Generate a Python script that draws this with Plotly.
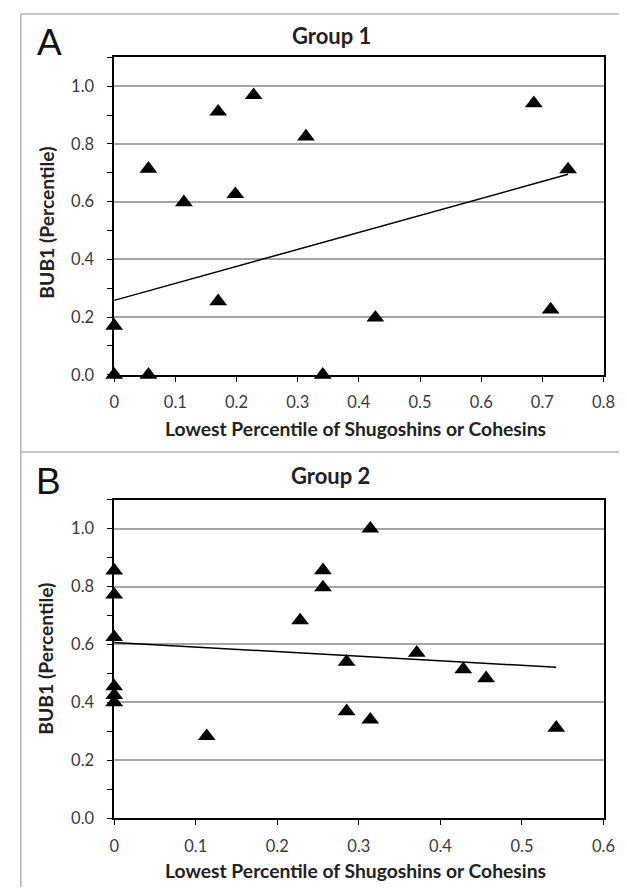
import plotly.graph_objects as go

# ---------------- data ----------------
group1_x = [0.0, 0.0, 0.056, 0.056, 0.114, 0.170, 0.170, 0.198, 0.228, 0.3135, 0.341, 0.427, 0.686, 0.7135, 0.742]
group1_y = [0.17, 0.0, 0.0, 0.714, 0.598, 0.912, 0.255, 0.626, 0.969, 0.826, 0.0, 0.198, 0.941, 0.226, 0.712]
group1_trend_x = [0.0, 0.742]
group1_trend_y = [0.258, 0.695]

group2_x = [0.0, 0.0, 0.0, 0.0, 0.0, 0.0, 0.1135, 0.228, 0.256, 0.256, 0.285, 0.285, 0.314, 0.314, 0.371, 0.428, 0.456, 0.542]
group2_y = [0.855, 0.772, 0.625, 0.455, 0.425, 0.400, 0.283, 0.683, 0.856, 0.797, 0.540, 0.369, 1.0, 0.340, 0.571, 0.514, 0.483, 0.312]
group2_trend_x = [0.0, 0.542]
group2_trend_y = [0.607, 0.521]

panel_labels = ["A", "B"]
titles = ["Group 1", "Group 2"]
x_title = "Lowest Percentile of Shugoshins or Cohesins"
y_title = "BUB1 (Percentile)"
x_ranges = [[0, 0.8], [0, 0.6]]
y_range = [0, 1.1]

# ---------------- figure ----------------
W, H = 627, 889
FONT = "Lato"

def px(x):
    return x / W

def py(y):
    return 1 - y / H

fig = go.Figure()

marker = dict(symbol="triangle-up", size=15.5, color="black", line=dict(width=0))

fig.add_trace(go.Scatter(x=group1_x, y=group1_y, mode="markers", marker=marker,
                         cliponaxis=False, xaxis="x", yaxis="y", showlegend=False))
fig.add_trace(go.Scatter(x=group1_trend_x, y=group1_trend_y, mode="lines",
                         line=dict(color="black", width=1.5), cliponaxis=False,
                         xaxis="x", yaxis="y", showlegend=False))
fig.add_trace(go.Scatter(x=group2_x, y=group2_y, mode="markers", marker=marker,
                         cliponaxis=False, xaxis="x2", yaxis="y2", showlegend=False))
fig.add_trace(go.Scatter(x=group2_trend_x, y=group2_trend_y, mode="lines",
                         line=dict(color="black", width=1.5), cliponaxis=False,
                         xaxis="x2", yaxis="y2", showlegend=False))

xdom = [px(104), px(607)]
ydomA = [py(371), py(50)]
ydomB = [py(819.3), py(497.3)]

tickfont = dict(family=FONT, size=16.5, color="#3a3a3a")

def xaxis_cfg(rng, anchor):
    return dict(domain=xdom, range=rng, anchor=anchor, dtick=0.1, tick0=0,
                showgrid=False, zeroline=False, showline=True, linecolor="black",
                linewidth=1.5, mirror=True, ticks="outside", ticklen=5,
                tickcolor="black", tickwidth=1, tickfont=tickfont,
                ticklabelstandoff=7, layer="below traces")

def yaxis_cfg(dom, anchor):
    return dict(domain=dom, range=y_range, anchor=anchor, dtick=0.2, tick0=0,
                tickformat=".1f", showgrid=True, gridcolor="#a6a6a6", gridwidth=1.5,
                zeroline=False, showline=True, linecolor="black", linewidth=1.5,
                mirror=True, ticks="outside", ticklen=5, tickcolor="black",
                tickwidth=1, tickfont=tickfont, ticklabelstandoff=10,
                minor=dict(dtick=0.1, tick0=0, ticks="outside", ticklen=5,
                           tickcolor="black", tickwidth=1, showgrid=False),
                layer="below traces")

fig.update_layout(
    width=W, height=H,
    margin=dict(l=0, r=0, t=0, b=0),
    paper_bgcolor="white", plot_bgcolor="white",
    xaxis=xaxis_cfg(x_ranges[0], "y"),
    yaxis=yaxis_cfg(ydomA, "x"),
    xaxis2=xaxis_cfg(x_ranges[1], "y2"),
    yaxis2=yaxis_cfg(ydomB, "x2"),
    showlegend=False,
)

annotations = []
# panel labels
for lab, (x, y) in zip(panel_labels, [(38, 35), (37, 479)]):
    annotations.append(dict(text=lab, x=px(x), y=py(y), xref="paper", yref="paper",
                            showarrow=False, xanchor="center", yanchor="middle",
                            font=dict(family="Liberation Sans", size=37, color="#111111")))
# group titles
for t, (x, y) in zip(titles, [(327, 28), (326, 473)]):
    annotations.append(dict(text="<b>%s</b>" % t, x=px(x), y=py(y), xref="paper", yref="paper",
                            showarrow=False, xanchor="center", yanchor="middle",
                            font=dict(family=FONT, size=22, color="#222222")))
# axis titles
for (x, y) in [(352, 425), (352, 872)]:
    annotations.append(dict(text="<b>%s</b>" % x_title, x=px(x), y=py(y), xref="paper", yref="paper",
                            showarrow=False, xanchor="center", yanchor="middle",
                            font=dict(family=FONT, size=19.3, color="#222222")))
for (x, y) in [(34, 217), (34, 658)]:
    annotations.append(dict(text="<b>%s</b>" % y_title, x=px(x), y=py(y), xref="paper", yref="paper",
                            showarrow=False, xanchor="center", yanchor="middle", textangle=-90,
                            font=dict(family=FONT, size=19.3, color="#222222")))
fig.update_layout(annotations=annotations)

# panel borders
border = dict(color="#b4b4b4", width=1.5)
shapes = [
    dict(type="line", xref="paper", yref="paper", x0=px(8), x1=1, y0=py(6), y1=py(6), line=border),
    dict(type="line", xref="paper", yref="paper", x0=px(8), x1=px(8), y0=py(6), y1=0, line=border),
    dict(type="line", xref="paper", yref="paper", x0=px(8), x1=1, y0=py(449), y1=py(449), line=border),
]
fig.update_layout(shapes=shapes)

fig.write_html("out.html")
